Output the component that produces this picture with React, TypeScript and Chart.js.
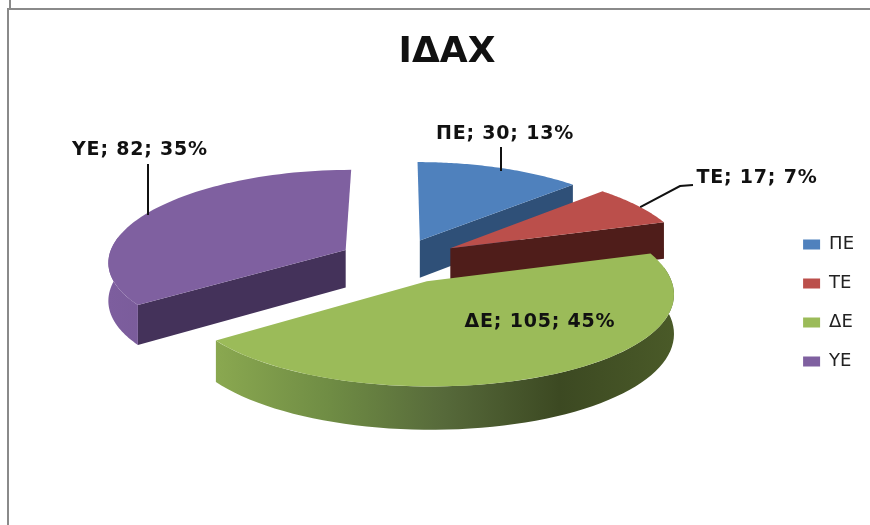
import React, { useEffect, useRef } from "react";
import { Chart, registerables } from "chart.js";

Chart.register(...registerables);

const categories = ["ΠΕ", "ΤΕ", "ΔΕ", "ΥΕ"];
const counts = [30, 17, 105, 82];
const percents = [13, 7, 45, 35];
const explodePercent = [24, 26, 26, 25];
const topColors = ["#4f81bd", "#bb4f4b", "#9bbb59", "#7f60a0"];
const edgeColors = ["#2f5078", "#4f1d1a", "#4a5a28", "#44325a"];
const outerStops: string[][] = [
  ["#2f5078", "#2f5078"],
  ["#4f1d1a", "#4f1d1a"],
  ["#8aa850", "#6f8c44", "#56693a", "#3c4922", "#4a5a28"],
  ["#7d5e9e", "#6a5088"],
];
const drawOrder = [0, 3, 1, 2];
const titleText = "ΙΔΑΧ";

// label text centre and elbow of each leader, in page pixels
const labelCentres = [
  [505, 134],
  [757, 178],
  [540, 322],
  [140, 150],
];
const leaderStarts: (number[] | null)[] = [[501, 147], [693, 185], null, [148, 164]];
const leaderElbows: (number[] | null)[] = [null, [680, 186], null, null];
const leaderAngleShare = [0.62, 0.55, 0, 0.48];

const font = '"DejaVu Sans", sans-serif';

// view of the tilted pie plane
const view = { cx: 398, cy: 260, fx: 238, fy: 90, px: 0.12, py: 0.1, depth: 38 };
function project(X: number, Y: number, lift = 0) {
  const x = view.cx + (view.fx * X) / (1 - view.px * Y);
  const y = view.cy + (view.fy * Y) / (1 - view.py * Y) + (lift * view.depth) / (1 - view.py * Y);
  return [x, y];
}

const pie3d = {
  id: "pie3d",
  beforeDatasetDraw(chart: any) {
    const ctx = chart.ctx as CanvasRenderingContext2D;
    const arcs = chart.getDatasetMeta(0).data;
    const geom = arcs.map((el: any) => {
      const mid = (el.startAngle + el.endAngle) / 2;
      const ex = el.options.offset / 100;
      return {
        ox: ex * Math.cos(mid),
        oy: ex * Math.sin(mid),
        a0: el.startAngle,
        a1: el.endAngle,
      };
    });
    const rim = (g: any, lift: number, a0 = g.a0, a1 = g.a1) => {
      const pts: number[][] = [];
      const steps = 64;
      for (let i = 0; i <= steps; i++) {
        const a = a0 + ((a1 - a0) * i) / steps;
        pts.push(project(g.ox + Math.cos(a), g.oy + Math.sin(a), lift));
      }
      return pts;
    };
    const fillPoly = (pts: number[][], fill: any) => {
      ctx.beginPath();
      pts.forEach((p, i) => (i ? ctx.lineTo(p[0], p[1]) : ctx.moveTo(p[0], p[1])));
      ctx.closePath();
      ctx.fillStyle = fill;
      ctx.fill();
    };
    for (const i of drawOrder) {
      const g = geom[i];
      const top = rim(g, 0);
      const low = rim(g, 1);
      const apexTop = project(g.ox, g.oy, 0);
      const apexLow = project(g.ox, g.oy, 1);
      // radial walls, only those that face the viewer
      if (Math.cos(g.a0) < -1e-6) fillPoly([apexTop, top[0], low[0], apexLow], edgeColors[i]);
      if (Math.cos(g.a1) > 1e-6)
        fillPoly([apexTop, top[top.length - 1], low[low.length - 1], apexLow], edgeColors[i]);
      // outer wall, front half of the rim plus a little for the silhouette
      const frontStart = Math.max(g.a0, -0.15);
      const frontEnd = Math.min(g.a1, Math.PI + 0.15);
      if (g.a1 > 0 && frontEnd > frontStart) {
        const xs = top.map((p) => p[0]);
        const x0 = Math.min(...xs);
        const x1 = Math.max(...xs);
        const grad = ctx.createLinearGradient(x0, 0, x1, 0);
        outerStops[i].forEach((c, k) => grad.addColorStop(k / (outerStops[i].length - 1), c));
        const upper = rim(g, 0, frontStart, frontEnd);
        const lower = rim(g, 1, frontStart, frontEnd);
        fillPoly([...upper, ...lower.reverse()], grad);
      }
      // top face
      fillPoly([apexTop, ...top], topColors[i]);
    }
    // leaders and labels
    ctx.strokeStyle = "#111";
    ctx.lineWidth = 2;
    ctx.fillStyle = "#111";
    ctx.font = `bold 19px ${font}`;
    (ctx as any).letterSpacing = "0.8px";
    ctx.textAlign = "center";
    ctx.textBaseline = "middle";
    categories.forEach((name, i) => {
      const start = leaderStarts[i];
      if (start) {
        const g = geom[i];
        const a = g.a0 + (g.a1 - g.a0) * leaderAngleShare[i];
        const end = project(g.ox + Math.cos(a), g.oy + Math.sin(a), 0);
        const elbow = leaderElbows[i];
        ctx.beginPath();
        ctx.moveTo(start[0], start[1]);
        if (elbow) ctx.lineTo(elbow[0], elbow[1]);
        ctx.lineTo(elbow ? end[0] : start[0], end[1]);
        ctx.stroke();
      }
      ctx.fillText(`${name}; ${counts[i]}; ${percents[i]}%`, labelCentres[i][0], labelCentres[i][1]);
    });
    (ctx as any).letterSpacing = "0px";
    return false;
  },
};

export default function App() {
  const ref = useRef<HTMLCanvasElement>(null);
  useEffect(() => {
    const chart = new Chart(ref.current as HTMLCanvasElement, {
      type: "pie",
      data: {
        labels: categories,
        datasets: [
          {
            data: counts,
            backgroundColor: topColors,
            offset: explodePercent,
            borderWidth: 0,
          },
        ],
      },
      options: {
        responsive: false,
        animation: false,
        layout: { padding: { top: 0, right: 6, bottom: 0, left: 30 } },
        plugins: {
          title: {
            display: true,
            text: titleText,
            color: "#111",
            font: { family: font, size: 36, weight: "bold" },
            padding: { top: 31, bottom: 7 },
          },
          legend: {
            position: "right",
            fullSize: false,
            labels: {
              color: "#222",
              font: { family: font, size: 18 },
              boxWidth: 17,
              boxHeight: 10,
              padding: 21,
            },
          },
          tooltip: { enabled: false },
        },
      },
      plugins: [pie3d],
    } as any);
    return () => chart.destroy();
  }, []);
  const grey = "#8a8a8a";
  return (
    <div style={{ position: "absolute", left: 0, top: 0, width: 870, height: 525, background: "#fff", overflow: "hidden" }}>
      <canvas ref={ref} width={870} height={525} style={{ display: "block", filter: "blur(0.5px)" }} />
      <div style={{ position: "absolute", left: 7, top: 8, right: 0, height: 2, background: grey }} />
      <div style={{ position: "absolute", left: 7, top: 8, bottom: 0, width: 2, background: grey }} />
      <div style={{ position: "absolute", left: 9, top: 0, height: 8, width: 2, background: grey }} />
    </div>
  );
}
